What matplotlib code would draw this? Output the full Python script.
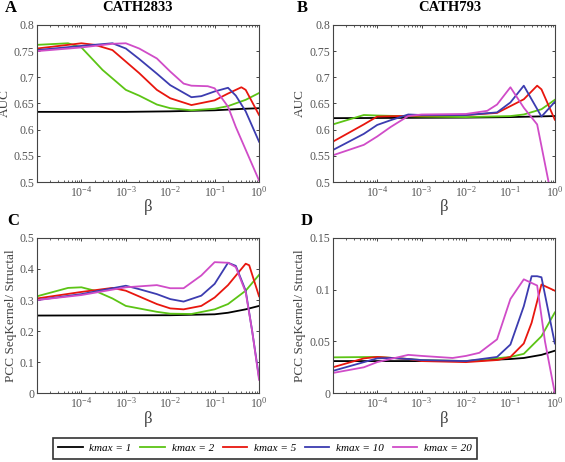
import numpy as np
import matplotlib
matplotlib.use('Agg')
import matplotlib.pyplot as plt

plt.rcParams['font.family'] = 'Liberation Serif'
plt.rcParams['mathtext.fontset'] = 'custom'
plt.rcParams['mathtext.rm'] = 'Liberation Serif'
plt.rcParams['mathtext.it'] = 'Liberation Serif:italic'

# ---- data (beta, value) ----
# Panel A: CATH2833 AUC
a_k1_x = [1e-5, 1e-3, 1e-2, 1e-1, 0.5, 1]
a_k1_y = [0.634, 0.634, 0.635, 0.637, 0.640, 0.641]
a_k2_x = [1e-5, 5e-5, 1e-4, 3e-4, 1e-3, 2e-3, 5e-3, 1e-2, 3e-2, 1e-1, 0.2, 0.5, 1]
a_k2_y = [0.762, 0.765, 0.757, 0.714, 0.676, 0.665, 0.648, 0.641, 0.637, 0.640, 0.645, 0.657, 0.670]
a_k5_x = [1e-5, 1e-4, 2e-4, 5e-4, 1e-3, 2e-3, 5e-3, 1e-2, 3e-2, 1e-1, 0.2, 0.4, 0.5, 1]
a_k5_y = [0.755, 0.765, 0.762, 0.752, 0.730, 0.708, 0.676, 0.660, 0.647, 0.656, 0.669, 0.681, 0.676, 0.628]
a_k10_x = [1e-5, 1e-4, 5e-4, 1e-3, 2e-3, 5e-3, 1e-2, 3e-2, 5e-2, 1e-1, 0.2, 0.3, 0.5, 1]
a_k10_y = [0.752, 0.760, 0.765, 0.755, 0.735, 0.707, 0.685, 0.662, 0.664, 0.673, 0.680, 0.665, 0.635, 0.577]
a_k20_x = [1e-5, 1e-4, 5e-4, 1e-3, 2e-3, 5e-3, 1e-2, 2e-2, 3e-2, 7e-2, 1e-1, 0.2, 0.3, 1]
a_k20_y = [0.750, 0.757, 0.764, 0.765, 0.755, 0.736, 0.711, 0.688, 0.684, 0.683, 0.679, 0.644, 0.605, 0.503]

# Panel B: CATH793 AUC
b_k1_x = [1e-5, 1e-2, 0.1, 1]
b_k1_y = [0.622, 0.623, 0.624, 0.626]
b_k2_x = [1e-5, 5e-5, 1e-4, 1e-3, 1e-2, 1e-1, 0.2, 0.5, 1]
b_k2_y = [0.610, 0.628, 0.627, 0.625, 0.624, 0.626, 0.629, 0.639, 0.657]
b_k5_x = [1e-5, 5e-5, 1e-4, 1e-3, 1e-2, 5e-2, 1e-1, 0.2, 0.4, 0.5, 1]
b_k5_y = [0.577, 0.610, 0.625, 0.627, 0.628, 0.632, 0.645, 0.658, 0.684, 0.677, 0.619]
b_k10_x = [1e-5, 5e-5, 1e-4, 2e-4, 5e-4, 1e-3, 1e-2, 5e-2, 1e-1, 0.2, 0.5, 1]
b_k10_y = [0.561, 0.592, 0.609, 0.618, 0.629, 0.628, 0.628, 0.633, 0.652, 0.684, 0.625, 0.653]
b_k20_x = [1e-5, 5e-5, 1e-4, 2e-4, 5e-4, 1e-3, 1e-2, 3e-2, 5e-2, 1e-1, 0.2, 0.4, 1]
b_k20_y = [0.551, 0.571, 0.587, 0.605, 0.626, 0.629, 0.630, 0.636, 0.648, 0.681, 0.642, 0.610, 0.440]

# Panel C: CATH2833 PCC
c_k1_x = [1e-5, 1e-2, 1e-1, 0.2, 0.5, 1]
c_k1_y = [0.250, 0.251, 0.254, 0.259, 0.270, 0.281]
c_k2_x = [1e-5, 5e-5, 1e-4, 2e-4, 5e-4, 1e-3, 5e-3, 1e-2, 3e-2, 1e-1, 0.2, 0.5, 1]
c_k2_y = [0.312, 0.339, 0.341, 0.330, 0.305, 0.281, 0.262, 0.256, 0.255, 0.270, 0.287, 0.330, 0.381]
c_k5_x = [1e-5, 1e-4, 5e-4, 1e-3, 5e-3, 1e-2, 2e-2, 5e-2, 1e-1, 0.2, 0.5, 0.6, 1]
c_k5_y = [0.305, 0.326, 0.339, 0.330, 0.287, 0.273, 0.270, 0.281, 0.308, 0.348, 0.417, 0.412, 0.312]
c_k10_x = [1e-5, 1e-4, 5e-4, 1e-3, 2e-3, 5e-3, 1e-2, 2e-2, 5e-2, 1e-1, 0.2, 0.3, 0.5, 0.7, 1]
c_k10_y = [0.300, 0.319, 0.338, 0.346, 0.335, 0.319, 0.303, 0.295, 0.314, 0.352, 0.420, 0.410, 0.330, 0.200, 0.050]
c_k20_x = [1e-5, 1e-4, 1e-3, 5e-3, 1e-2, 2e-2, 5e-2, 1e-1, 0.2, 0.3, 0.5, 0.7, 1]
c_k20_y = [0.300, 0.316, 0.341, 0.348, 0.338, 0.338, 0.379, 0.422, 0.420, 0.406, 0.325, 0.200, 0.043]

# Panel D: CATH793 PCC
d_k1_x = [1e-5, 1e-2, 1e-1, 0.2, 0.5, 1]
d_k1_y = [0.031, 0.031, 0.033, 0.034, 0.037, 0.041]
d_k2_x = [1e-5, 1e-4, 5e-4, 1e-3, 1e-2, 1e-1, 0.2, 0.5, 1]
d_k2_y = [0.0346, 0.035, 0.033, 0.032, 0.031, 0.035, 0.038, 0.055, 0.078]
d_k5_x = [1e-5, 5e-5, 1e-4, 5e-4, 1e-3, 1e-2, 5e-2, 1e-1, 0.2, 0.3, 0.5, 1]
d_k5_y = [0.025, 0.0336, 0.035, 0.033, 0.031, 0.030, 0.032, 0.035, 0.048, 0.068, 0.105, 0.099]
d_k10_x = [1e-5, 1e-4, 2e-4, 5e-4, 1e-3, 1e-2, 5e-2, 1e-1, 0.2, 0.3, 0.4, 0.5, 1]
d_k10_y = [0.0215, 0.0336, 0.034, 0.033, 0.032, 0.031, 0.035, 0.047, 0.084, 0.113, 0.113, 0.112, 0.048]
d_k20_x = [1e-5, 5e-5, 1e-4, 5e-4, 1e-3, 5e-3, 1e-2, 2e-2, 5e-2, 1e-1, 0.2, 0.4, 0.6, 1]
d_k20_y = [0.0195, 0.025, 0.030, 0.037, 0.036, 0.034, 0.036, 0.039, 0.052, 0.091, 0.110, 0.104, 0.050, 0.0]

labels = ['kmax = 1', 'kmax = 2', 'kmax = 5', 'kmax = 10', 'kmax = 20']
colors = ['#000000', '#5cc415', '#e8160e', '#3c3cb0', '#d04cc8']

panels = [
    ('A', 'CATH2833', 'AUC', [(a_k1_x, a_k1_y), (a_k2_x, a_k2_y), (a_k5_x, a_k5_y), (a_k10_x, a_k10_y), (a_k20_x, a_k20_y)],
     [0.5, 0.8], [0.5, 0.55, 0.6, 0.65, 0.7, 0.75, 0.8]),
    ('B', 'CATH793', 'AUC', [(b_k1_x, b_k1_y), (b_k2_x, b_k2_y), (b_k5_x, b_k5_y), (b_k10_x, b_k10_y), (b_k20_x, b_k20_y)],
     [0.5, 0.8], [0.5, 0.55, 0.6, 0.65, 0.7, 0.75, 0.8]),
    ('C', None, 'PCC SeqKernel/ Structal', [(c_k1_x, c_k1_y), (c_k2_x, c_k2_y), (c_k5_x, c_k5_y), (c_k10_x, c_k10_y), (c_k20_x, c_k20_y)],
     [0, 0.5], [0, 0.1, 0.2, 0.3, 0.4, 0.5]),
    ('D', None, 'PCC SeqKernel/ Structal', [(d_k1_x, d_k1_y), (d_k2_x, d_k2_y), (d_k5_x, d_k5_y), (d_k10_x, d_k10_y), (d_k20_x, d_k20_y)],
     [0, 0.15], [0, 0.05, 0.1, 0.15]),
]

positions = [[0.0655, 0.606, 0.393, 0.340], [0.589, 0.606, 0.393, 0.340],
             [0.0655, 0.149, 0.393, 0.336], [0.589, 0.149, 0.393, 0.336]]
title_x = [0.243, 0.797, None, None]
letter_x = [0.008, 0.525, 0.012, 0.532]

fig = plt.figure(figsize=(5.65, 4.62), dpi=100)
handles = []
for i, ((letter, title, ylab, series, ylim, yticks), pos) in enumerate(zip(panels, positions)):
    ax = fig.add_axes(pos)
    hs = []
    for (x, y), c, lab in zip(series, colors, labels):
        h, = ax.plot(x, y, color=c, lw=1.3, label=lab)
        hs.append(h)
    handles = hs
    ax.set_xscale('log')
    ax.set_xlim(1e-5, 1)
    ax.set_ylim(ylim)
    ax.set_yticks(yticks)
    ax.set_yticklabels(['%g' % t for t in yticks])
    ax.set_xticks([1e-4, 1e-3, 1e-2, 1e-1, 1])
    ax.set_xticklabels([r'$\mathregular{10^{-4}}$', r'$\mathregular{10^{-3}}$', r'$\mathregular{10^{-2}}$',
                        r'$\mathregular{10^{-1}}$', r'$\mathregular{10^{0}}$'])
    ax.xaxis.set_minor_locator(matplotlib.ticker.LogLocator(base=10, subs=np.arange(2, 10), numticks=20))
    ax.tick_params(which='both', direction='in', top=True, right=True, labelsize=8.5,
                   labelcolor='#555555', colors='#444444', pad=2)
    ax.tick_params(which='major', length=2.5, width=0.7)
    ax.tick_params(which='minor', length=1.5, width=0.6)
    for s in ax.spines.values():
        s.set_color('#444444')
        s.set_linewidth(0.8)
    ax.set_ylabel(ylab, fontsize=9.5, color='#444444', labelpad=2)
    ax.set_xlabel('β', fontsize=12, color='#444444', labelpad=0)
    top = pos[1] + pos[3]
    fig.text(letter_x[i], top + 0.037, letter, fontsize=12, fontweight='bold', va='center', ha='left')
    if title:
        fig.text(title_x[i], top + 0.037, title, fontsize=10.5, fontweight='bold', va='center', ha='center')

leg = fig.legend(handles, labels, loc='center', bbox_to_anchor=(0.469, 0.030), ncol=5,
                 fancybox=False, edgecolor='black', prop={'style': 'italic', 'size': 8},
                 handlelength=2.2, handletextpad=0.6, columnspacing=0.8, borderpad=0.5,
                 borderaxespad=0)
leg.get_frame().set_linewidth(1.2)

fig.savefig('out.png', dpi=100)
